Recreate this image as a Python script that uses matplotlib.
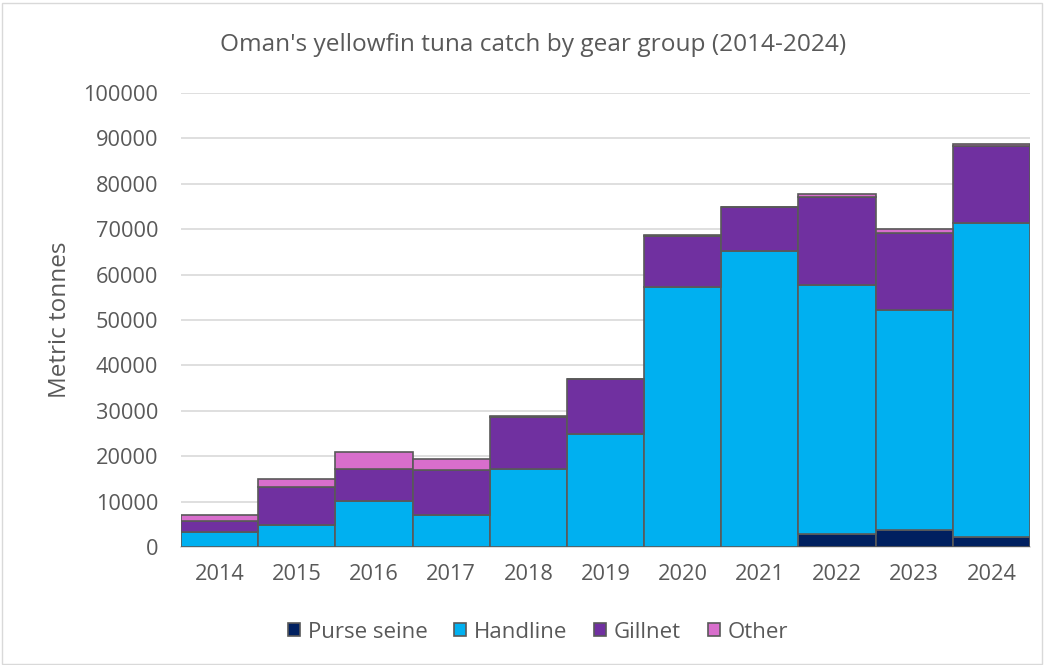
import matplotlib
matplotlib.use("Agg")
import matplotlib.pyplot as plt
from matplotlib.patches import Rectangle
import numpy as np

years = ["2014", "2015", "2016", "2017", "2018", "2019", "2020", "2021", "2022", "2023", "2024"]
purse_seine = [0, 0, 0, 0, 0, 0, 0, 0, 2900, 3800, 2300]
handline = [3400, 4900, 10200, 7000, 17100, 25000, 57300, 65100, 54900, 48450, 69150]
gillnet = [2400, 8250, 7050, 9900, 11600, 11900, 11300, 9850, 19250, 16950, 16950]
other = [1250, 1900, 3600, 2400, 50, 100, 150, 0, 750, 800, 400]

series = [("Purse seine", purse_seine, "#002060"),
          ("Handline", handline, "#00B0F0"),
          ("Gillnet", gillnet, "#7030A0"),
          ("Other", other, "#D86ECC")]

plt.rcParams['font.family'] = ['Open Sans', 'DejaVu Sans']

fig = plt.figure(figsize=(10.46, 6.65), dpi=100)
ax = fig.add_axes([181/1046, 118/665, 849/1046, 454/665])

x = np.arange(len(years))
bottom = np.zeros(len(years))
for name, vals, col in series:
    v = np.array(vals, dtype=float)
    ax.bar(x, v, bottom=bottom, width=1.0, color=col, edgecolor="#595959",
           linewidth=1.2, label=name, zorder=3)
    bottom += v

ax.set_xlim(-0.5, 10.5)
ax.set_ylim(0, 100000)
ax.set_yticks(np.arange(0, 100001, 10000))
ax.set_yticklabels([str(v) for v in range(0, 100001, 10000)])
ax.set_xticks(x)
ax.set_xticklabels(years)
ax.yaxis.grid(True, color="#D9D9D9", linewidth=1.2, zorder=0)
ax.set_axisbelow(True)
for s in ["top", "right", "left"]:
    ax.spines[s].set_visible(False)
ax.spines["bottom"].set_color("#D9D9D9")
ax.spines["bottom"].set_linewidth(1.2)
ax.tick_params(axis="both", length=0, labelsize=15.7, colors="#595959")
ax.tick_params(axis="y", pad=16.5)
ax.tick_params(axis="x", pad=12)
ax.set_ylabel("Metric tonnes", fontsize=17.5, color="#595959")
ax.yaxis.set_label_coords(-(181 - 72) / 849, 0.5)

fig.text(533/1046, 1 - 45/665, "Oman's yellowfin tuna catch by gear group (2014-2024)",
         ha="center", va="center", fontsize=17.6, color="#595959")

leg = fig.legend(loc="center", bbox_to_anchor=(538/1046, 1 - 632/665), ncol=4,
                 frameon=False, fontsize=16, handlelength=0.55, handleheight=0.55,
                 handletextpad=0.35, columnspacing=1.2)
for t in leg.get_texts():
    t.set_color("#595959")

fig.patches.append(Rectangle((0.002, 0.002), 0.994, 0.994, transform=fig.transFigure,
                             fill=False, edgecolor="#D9D9D9", linewidth=1))

fig.savefig("out.png", dpi=100)
